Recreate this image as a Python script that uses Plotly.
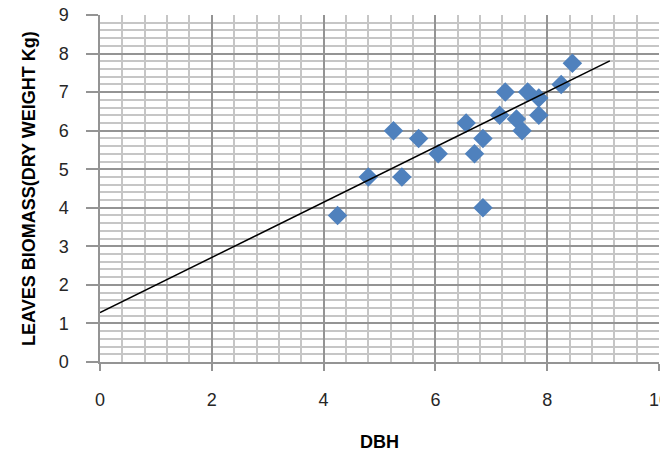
import plotly.graph_objects as go

# Diameter at breast height vs. leaf dry-weight biomass
dbh = [4.25, 4.8, 5.4, 5.25, 5.7, 6.05, 6.55, 6.7, 6.85, 6.85,
       7.15, 7.25, 7.45, 7.55, 7.65, 7.85, 7.85, 8.25, 8.45]
leaves_biomass = [3.8, 4.8, 4.8, 6.0, 5.8, 5.4, 6.2, 5.4, 5.8, 4.0,
                  6.4, 7.0, 6.3, 6.0, 7.0, 6.85, 6.4, 7.2, 7.75]

# Linear trendline end points
trend_x = [0.0, 9.12]
trend_y = [1.28, 7.81]

x_ticks = [0, 2, 4, 6, 8, 10]
y_ticks = [0, 1, 2, 3, 4, 5, 6, 7, 8, 9]

MAJOR_GRID = "#949494"
MINOR_GRID = "#c6c6c6"
TICK_FONT = dict(family="Liberation Sans", size=18, color="#262626")

fig = go.Figure()

fig.add_trace(go.Scatter(
    x=dbh, y=leaves_biomass, mode="markers",
    marker=dict(symbol="diamond", size=15, color="#4f81bd",
                line=dict(width=0)),
    showlegend=False, hoverinfo="x+y",
))

fig.add_trace(go.Scatter(
    x=trend_x, y=trend_y, mode="lines",
    line=dict(color="black", width=1.5),
    showlegend=False, hoverinfo="skip",
))

fig.update_layout(
    width=660, height=453,
    margin=dict(l=100, r=1, t=15, b=91, autoexpand=False),
    paper_bgcolor="white", plot_bgcolor="white",
    xaxis=dict(
        range=[0, 10], tickvals=x_ticks, ticktext=[str(v) for v in x_ticks],
        showgrid=True, gridcolor=MAJOR_GRID, gridwidth=1.5,
        minor=dict(dtick=0.4, showgrid=True, gridcolor=MINOR_GRID, gridwidth=1.5),
        showline=True, linecolor=MAJOR_GRID, linewidth=1.5,
        ticks="outside", ticklen=7, tickcolor=MAJOR_GRID, tickwidth=1.5,
        tickfont=TICK_FONT, ticklabelstandoff=14, ticklabeloverflow="allow",
        automargin=False, zeroline=False, fixedrange=True,
    ),
    yaxis=dict(
        range=[0, 9], tickvals=y_ticks, ticktext=[str(v) for v in y_ticks],
        showgrid=True, gridcolor=MAJOR_GRID, gridwidth=1.5,
        minor=dict(dtick=0.2, showgrid=True, gridcolor=MINOR_GRID, gridwidth=1.5),
        showline=True, linecolor=MAJOR_GRID, linewidth=1.5,
        ticks="outside", ticklen=12, tickcolor=MAJOR_GRID, tickwidth=1.5,
        tickfont=TICK_FONT, ticklabelstandoff=14, ticklabeloverflow="allow",
        automargin=False, zeroline=False, fixedrange=True,
    ),
    annotations=[
        dict(text="<b>DBH</b>", xref="paper", yref="paper", x=0.5, y=-0.23,
             xanchor="center", yanchor="middle", showarrow=False,
             font=dict(family="Liberation Sans", size=18, color="black")),
        dict(text="<b>LEAVES BIOMASS(DRY WEIGHT Kg)</b>", xref="paper", yref="paper",
             x=-0.128, y=0.5, xanchor="center", yanchor="middle", textangle=-90,
             showarrow=False,
             font=dict(family="Liberation Sans", size=18, color="black")),
    ],
)

fig.write_html("out.html")
